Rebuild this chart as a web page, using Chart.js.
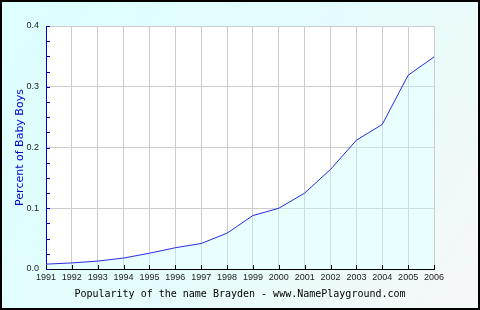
<!DOCTYPE html>
<html>
<head>
<meta charset="utf-8">
<title>Popularity of the name Brayden</title>
<script src="https://cdn.jsdelivr.net/npm/chart.js@4/dist/chart.umd.min.js"></script>
<style>
    body { margin: 0; background: #ffffff; }
    #chart { display: block; }
</style>
</head>
<body>
<canvas id="chart" width="480" height="310"></canvas>
<script>
//chart data
const years = ["1991", "1992", "1993", "1994", "1995", "1996", "1997", "1998",
    "1999", "2000", "2001", "2002", "2003", "2004", "2005", "2006"];
const percentBoys = [0.008, 0.010, 0.013, 0.018, 0.026, 0.035, 0.042, 0.059,
    0.088, 0.100, 0.125, 0.164, 0.212, 0.238, 0.319, 0.349];
const yMinorStep = 0.025;
const yTitle = "Percent of Baby Boys";
const xTitle = "Popularity of the name Brayden - www.NamePlayground.com";

//background gradient, white plot area, frame and inner tick marks
const framePlugin = {
    id: "frame",
    beforeDraw(chart) {
        let ctx = chart.ctx;
        let area = chart.chartArea;
        let grad = ctx.createLinearGradient(0, 0, chart.width, chart.height);
        grad.addColorStop(0, "#dcffff");
        grad.addColorStop(0.55, "#e6fbfb");
        grad.addColorStop(1, "#f6f8f8");
        ctx.save();
        ctx.fillStyle = grad;
        ctx.fillRect(0, 0, chart.width, chart.height);
        ctx.fillStyle = "#ffffff";
        ctx.fillRect(area.left, area.top, area.right - area.left, area.bottom - area.top);
        ctx.restore();
    },
    afterDraw(chart) {
        let ctx = chart.ctx;
        let area = chart.chartArea;
        let xs = chart.scales.x;
        let ys = chart.scales.y;
        ctx.save();
        ctx.lineWidth = 1;

        // y ticks (blue, pointing into the plot)
        ctx.strokeStyle = "#0000cc";
        ctx.beginPath();
        for (let v = 0; v <= ys.max + 1e-9; v += yMinorStep) {
            let y = Math.round(ys.getPixelForValue(v)) + 0.5;
            ctx.moveTo(area.left, y);
            ctx.lineTo(area.left + 4, y);
        }
        ctx.stroke();

        // x ticks (black, pointing up)
        ctx.strokeStyle = "#000000";
        ctx.beginPath();
        years.forEach((yr, i) => {
            let x = Math.round(xs.getPixelForValue(i)) + 0.5;
            ctx.moveTo(x, area.bottom);
            ctx.lineTo(x, area.bottom - 4);
        });
        ctx.stroke();

        // outer frame
        ctx.lineWidth = 2;
        ctx.strokeRect(1, 1, chart.width - 2, chart.height - 2);
        ctx.restore();
    }
};

document.addEventListener("DOMContentLoaded", () => {
    let context = document.getElementById("chart").getContext("2d");

    new Chart(context, {
        type: "line",
        data: {
            labels: years,
            datasets: [{
                data: percentBoys,
                borderColor: "#2a2ae0",
                borderWidth: 1,
                tension: 0,
                pointRadius: 0,
                fill: { target: "origin", above: "rgba(200, 255, 255, 0.4)" }
            }]
        },
        options: {
            responsive: false,
            animation: false,
            devicePixelRatio: 1,
            layout: { padding: { left: 0, top: 26, right: 46, bottom: 0 } },
            plugins: {
                legend: { display: false },
                tooltip: { enabled: false }
            },
            scales: {
                x: {
                    offset: false,
                    grid: { color: "#cccccc", drawTicks: false, offset: false },
                    border: { color: "#000000", width: 1 },
                    ticks: {
                        autoSkip: false,
                        maxRotation: 0,
                        padding: 3,
                        color: "#222222",
                        font: { family: "Liberation Sans", size: 9 }
                    },
                    title: {
                        display: true,
                        text: xTitle,
                        color: "#000000",
                        font: { family: "DejaVu Sans Mono", size: 10 },
                        padding: { top: 0, bottom: 10 }
                    },
                    afterFit(s) {
                        s.height = 41;
                        s.paddingLeft = 0;
                        s.paddingRight = 0;
                    }
                },
                y: {
                    min: 0,
                    max: 0.4,
                    grid: { color: "#cccccc", drawTicks: false },
                    border: { color: "#0000cc", width: 1 },
                    ticks: {
                        stepSize: 0.1,
                        padding: 7,
                        color: "#222222",
                        font: { family: "Liberation Sans", size: 9 },
                        callback: (v) => v.toFixed(1)
                    },
                    title: {
                        display: true,
                        text: yTitle,
                        color: "#0000cc",
                        font: { family: "DejaVu Sans", size: 11 },
                        padding: { top: 14, bottom: 0 }
                    },
                    afterFit(s) {
                        s.width = 46;
                        s.paddingTop = 0;
                        s.paddingBottom = 0;
                    }
                }
            }
        },
        plugins: [framePlugin]
    });
});
</script>
</body>
</html>
